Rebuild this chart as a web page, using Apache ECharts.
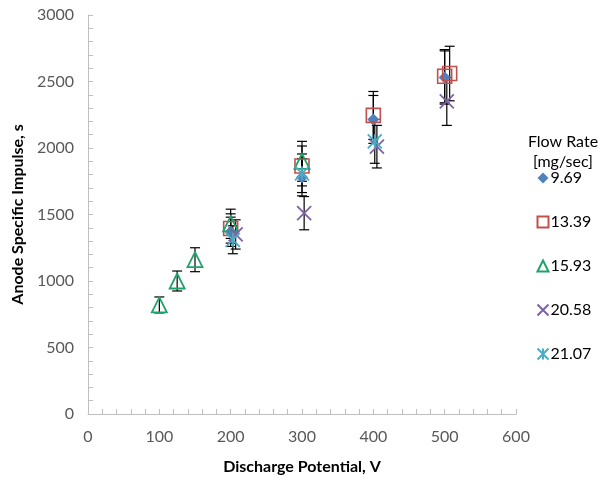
<!DOCTYPE html>
<html>
<head>
<meta charset="utf-8">
<script src="https://cdn.jsdelivr.net/npm/echarts@6/dist/echarts.min.js"></script>
<style>
  html, body { margin: 0; padding: 0; background: #fff; }
  #chart { width: 600px; height: 480px; }
</style>
</head>
<body>
<div id="chart"></div>
<script>
  // flow rate 9.69 mg/sec
  var v969 = [200, 300, 400, 500];
  var isp969 = [1370, 1780, 2215, 2530];
  var err969 = [110, 140, 180, 200];
  // flow rate 13.39 mg/sec
  var v1339 = [200, 300, 400, 500, 507];
  var isp1339 = [1395, 1865, 2245, 2540, 2560];
  var err1339 = [110, 150, 180, 200, 205];
  // flow rate 15.93 mg/sec
  var v1593 = [100, 125, 150, 200, 300];
  var isp1593 = [820, 1000, 1160, 1430, 1900];
  var err1593 = [60, 75, 90, 110, 150];
  // flow rate 20.58 mg/sec
  var v2058 = [207, 303, 405, 503];
  var isp2058 = [1350, 1510, 2010, 2350];
  var err2058 = [110, 125, 160, 180];
  // flow rate 21.07 mg/sec
  var v2107 = [203, 300, 402];
  var isp2107 = [1310, 1810, 2050];
  var err2107 = [105, 145, 165];

  var xTicks = [0, 100, 200, 300, 400, 500, 600];
  var yTicks = [0, 500, 1000, 1500, 2000, 2500, 3000];

  function pts(v, isp) {
    return v.map(function (x, i) { return [x, isp[i]]; });
  }
  function bars(v, isp, err) {
    return v.map(function (x, i) { return [x, isp[i] - err[i], isp[i] + err[i]]; });
  }

  var errData = [].concat(
    bars(v969, isp969, err969),
    bars(v1339, isp1339, err1339),
    bars(v1593, isp1593, err1593),
    bars(v2058, isp2058, err2058),
    bars(v2107, isp2107, err2107)
  );

  var crossPath = 'path://M0,0L10,10M10,0L0,10';
  var starPath = 'path://M0,0L10,10M10,0L0,10M5,0L5,10';

  var chart = echarts.init(document.getElementById('chart'));
  chart.setOption({
    animation: false,
    textStyle: { fontFamily: 'Lato, "Open Sans", sans-serif' },
    graphic: [
      { type: 'text', style: { text: 'Flow Rate', x: 563, y: 142, textAlign: 'center', textVerticalAlign: 'middle',
        fontSize: 16, fontFamily: 'Lato', fill: '#000' } },
      { type: 'text', style: { text: '[mg/sec]', x: 563, y: 162, textAlign: 'center', textVerticalAlign: 'middle',
        fontSize: 16, fontFamily: 'Lato', fill: '#000' } }
    ],
    legend: {
      orient: 'vertical',
      left: 530,
      top: 164,
      itemGap: 26,
      itemWidth: 11,
      itemHeight: 11,
      textStyle: { fontSize: 16, color: '#000', lineHeight: 18, padding: [0, 0, 0, -3] },
      data: ['9.69', '13.39', '15.93', '20.58', '21.07']
    },
    grid: { left: 88, right: 84, top: 15, bottom: 65 },
    xAxis: {
      type: 'value',
      min: 0, max: 600, interval: 100,
      name: 'Discharge Potential, V',
      nameLocation: 'middle',
      nameGap: 45,
      nameTextStyle: { fontSize: 16, fontWeight: 'bold', color: '#000' },
      axisLine: { lineStyle: { color: '#bfbfbf' } },
      axisTick: { show: true, inside: true, length: 5, lineStyle: { color: '#bfbfbf' } },
      minorTick: { show: true, splitNumber: 5, length: 5, lineStyle: { color: '#bfbfbf' } },
      axisLabel: { fontSize: 16, color: '#595959', margin: 15,
        formatter: function (v) { return xTicks.indexOf(v) >= 0 ? String(v) : ''; } },
      splitLine: { show: false }
    },
    yAxis: {
      type: 'value',
      min: 0, max: 3000, interval: 500,
      name: 'Anode Specific Impulse, s',
      nameLocation: 'middle',
      nameGap: 62,
      nameTextStyle: { fontSize: 16, fontWeight: 'bold', color: '#000' },
      axisLine: { show: true, lineStyle: { color: '#bfbfbf' } },
      axisTick: { show: true, inside: true, length: 5, lineStyle: { color: '#bfbfbf' } },
      minorTick: { show: true, splitNumber: 5, length: 5, lineStyle: { color: '#bfbfbf' } },
      axisLabel: { fontSize: 16, color: '#595959', margin: 14,
        formatter: function (v) { return yTicks.indexOf(v) >= 0 ? String(v) : ''; } },
      splitLine: { show: false }
    },
    series: [
      {
        type: 'custom',
        z: 1,
        data: errData,
        encode: { x: 0, y: [1, 2] },
        renderItem: function (params, api) {
          var x = api.value(0);
          var top = api.coord([x, api.value(2)]);
          var bot = api.coord([x, api.value(1)]);
          var w = 5;
          var st = { stroke: '#000', lineWidth: 1.2 };
          return {
            type: 'group',
            children: [
              { type: 'line', shape: { x1: top[0], y1: top[1], x2: bot[0], y2: bot[1] }, style: st },
              { type: 'line', shape: { x1: top[0] - w, y1: top[1], x2: top[0] + w, y2: top[1] }, style: st },
              { type: 'line', shape: { x1: bot[0] - w, y1: bot[1], x2: bot[0] + w, y2: bot[1] }, style: st }
            ]
          };
        }
      },
      {
        name: '9.69', type: 'scatter', z: 3,
        symbol: 'diamond', symbolSize: 12,
        itemStyle: { color: '#4f81bd', opacity: 1 },
        data: pts(v969, isp969)
      },
      {
        name: '13.39', type: 'scatter', z: 3,
        symbol: 'rect', symbolSize: 14,
        itemStyle: { color: 'none', borderColor: '#c0504d', borderWidth: 1.6, opacity: 1 },
        data: pts(v1339, isp1339)
      },
      {
        name: '15.93', type: 'scatter', z: 3,
        symbol: 'triangle', symbolSize: 15,
        itemStyle: { color: 'none', borderColor: '#1fa36a', borderWidth: 1.8, opacity: 1 },
        data: pts(v1593, isp1593)
      },
      {
        name: '20.58', type: 'scatter', z: 3,
        symbol: crossPath, symbolSize: 14,
        itemStyle: { color: 'none', borderColor: '#7e62a6', borderWidth: 1.8, opacity: 1 },
        data: pts(v2058, isp2058)
      },
      {
        name: '21.07', type: 'scatter', z: 3,
        symbol: starPath, symbolSize: 14,
        itemStyle: { color: 'none', borderColor: '#4bacc6', borderWidth: 1.8, opacity: 1 },
        data: pts(v2107, isp2107)
      }
    ]
  });
</script>
</body>
</html>
